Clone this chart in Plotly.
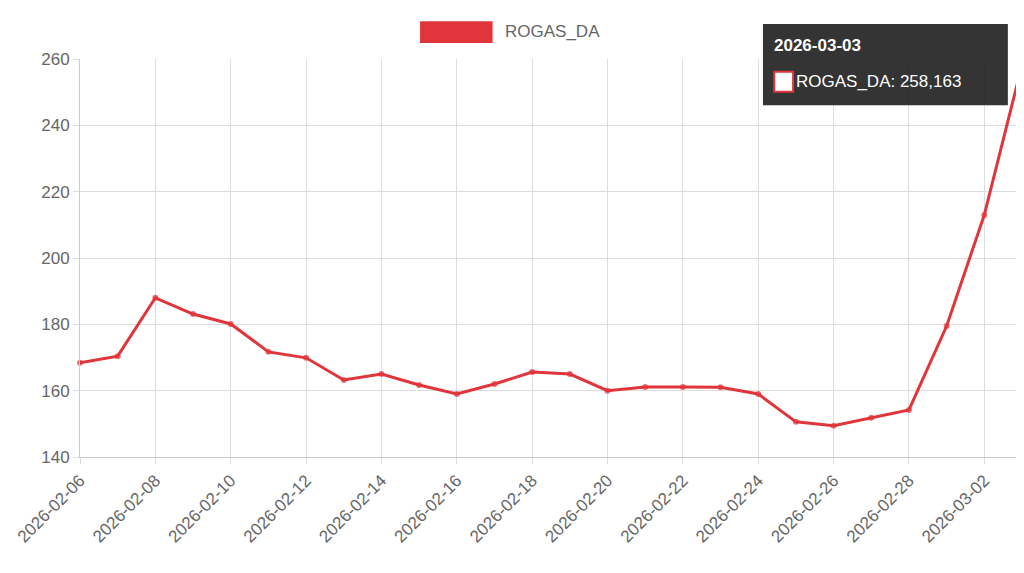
import pandas as pd
import plotly.graph_objects as go

# Podaci
dates = pd.date_range("2026-02-06", "2026-03-03", freq="D")
values = [168.4, 170.4, 188.0, 183.1, 180.1, 171.7, 169.9, 163.2, 165.0, 161.7,
          159.0, 162.0, 165.6, 165.0, 160.0, 161.1, 161.1, 161.0, 159.0, 150.6,
          149.4, 151.8, 154.2, 179.5, 213.0, 258.163]
series_name = "ROGAS_DA"
red = "#e0353b"

sizes = [6] * (len(values) - 1) + [12]

fig = go.Figure()
fig.add_trace(go.Scatter(
    x=[d.strftime("%Y-%m-%d") for d in dates], y=values, mode="lines+markers", name=series_name,
    line=dict(color=red, width=3),
    marker=dict(size=sizes, color=red, line=dict(width=0)),
    showlegend=False, cliponaxis=False
))

tickvals = [d.strftime("%Y-%m-%d") for d in dates[::2]]
fig.update_layout(
    width=1024, height=573,
    template="plotly_white",
    font=dict(family="Liberation Sans, Arial, sans-serif", color="#666", size=17),
    margin=dict(l=72, r=10, t=51, b=124, autoexpand=False),
    xaxis=dict(
        type="date", tickvals=tickvals, ticktext=tickvals, automargin=False,
        tickangle=-45, showgrid=True, gridcolor="#ddd", showline=True, linecolor="#ccc",
        range=["2026-02-06", "2026-03-03"], ticks="outside", ticklen=6, tickcolor="#ddd",
    ),
    yaxis=dict(range=[140, 260], dtick=20, showgrid=True, gridcolor="#ddd", automargin=False,
               showline=True, linecolor="#ccc", ticks="outside", ticklen=6, tickcolor="#ddd",
               zeroline=False),
    plot_bgcolor="white", paper_bgcolor="white",
)

# legenda
fig.add_shape(type="rect", xref="paper", yref="paper", x0=0.361, x1=0.438, y0=1.04, y1=1.095,
              fillcolor=red, line=dict(width=0))
fig.add_annotation(xref="paper", yref="paper", x=0.449, y=1.068, text=series_name,
                   showarrow=False, xanchor="left", yanchor="middle", font=dict(size=17, color="#666"))

# tooltip
fig.add_shape(type="rect", xref="paper", yref="paper", x0=0.725, x1=0.985, y0=0.884, y1=1.088,
              fillcolor="rgba(30,30,30,0.9)", line=dict(width=0))
fig.add_annotation(xref="paper", yref="paper", x=0.735, y=1.033, text="<b>2026-03-03</b>",
                   showarrow=False, xanchor="left", yanchor="middle", font=dict(size=17, color="white"))
fig.add_shape(type="rect", xref="paper", yref="paper", x0=0.737, x1=0.757, y0=0.918, y1=0.968,
              fillcolor="white", line=dict(color=red, width=2))
fig.add_annotation(xref="paper", yref="paper", x=0.758, y=0.943,
                   text=f"{series_name}: 258,163",
                   showarrow=False, xanchor="left", yanchor="middle", font=dict(size=17, color="white"))

fig.write_html("out.html")
